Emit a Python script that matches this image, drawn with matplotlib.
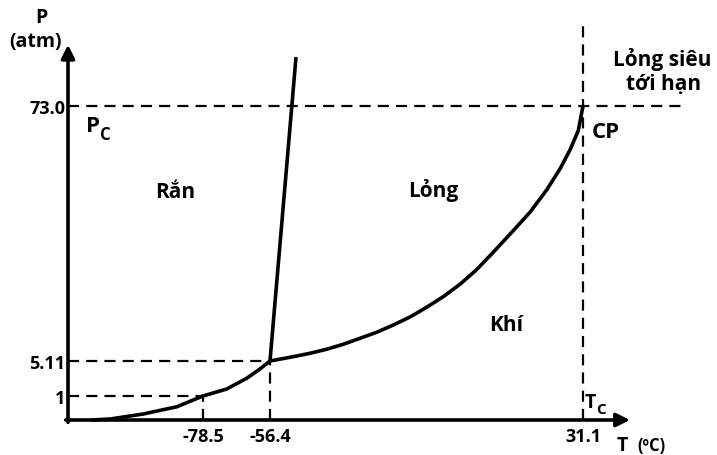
import numpy as np
import matplotlib
matplotlib.use("Agg")
import matplotlib.pyplot as plt

# ---------------- data (schematic CO2 phase diagram) ----------------
T_ticks = [-78.5, -56.4, 31.1]
T_tick_labels = ["-78.5", "-56.4", "31.1"]
P_ticks = [1, 5.11, 73.0]
P_tick_labels = ["1", "5.11", "73.0"]

# sublimation curve (solid - gas)
subl_T = [-113.0, -107.1, -96.85, -86.59, -78.5, -70.68, -64.08, -59.7, -56.4]
subl_P = [0.0, 0.04, 0.25, 0.55, 1.0, 1.82, 3.08, 4.17, 5.11]
# vaporisation curve (liquid - gas)
vap_T = [-56.4, -49.89, -45.22, -40.55, -35.91, -31.24, -26.57, -21.93, -17.26,
         -12.59, -7.95, -3.28, 1.38, 6.02, 11.61, 16.28, 20.95, 24.67, 27.47,
         29.79, 31.1]
vap_P = [5.11, 6.25, 7.16, 8.23, 9.56, 11.15, 12.75, 14.69, 16.82,
         19.41, 22.23, 25.53, 29.42, 34.05, 39.8, 44.7, 50.64, 56.23, 61.29,
         66.43, 73.0]
# melting curve (solid - liquid)
melt_T = [-56.4, -49.13]
melt_P = [5.11, 86.0]

triple_T, triple_P = -56.4, 5.11
crit_T, crit_P = 31.1, 73.0

# ---------------- schematic (non-linear) axis scales ----------------
T_anchor = np.array([-120.0, -78.5, -56.4, 31.1, 45.0, 70.0])
T_pos = np.array([0.0, 135.0, 202.0, 515.0, 562.0, 646.5])
P_anchor = np.array([0.0, 1.0, 5.11, 73.0, 100.0])
P_pos = np.array([0.0, 24.0, 59.0, 314.0, 415.4])

def t_fwd(t):
    return np.interp(t, T_anchor, T_pos)

def t_inv(p):
    return np.interp(p, T_pos, T_anchor)

def p_fwd(v):
    return np.interp(v, P_anchor, P_pos)

def p_inv(p):
    return np.interp(p, P_pos, P_anchor)

W, H = 717, 456
fig = plt.figure(figsize=(W / 100, H / 100), dpi=100)
ax = fig.add_axes([68 / W, (H - 421) / H, (630 - 68) / W, (421 - 40) / H])
ax.set_xscale("function", functions=(t_fwd, t_inv))
ax.set_yscale("function", functions=(p_fwd, p_inv))
ax.set_xlim(-120, 45)
ax.set_ylim(0, 90.8)
for s in ax.spines.values():
    s.set_visible(False)
ax.patch.set_alpha(0)

FONT = "Open Sans"
W8 = "bold"

ax.set_xticks(T_ticks)
ax.set_xticklabels(T_tick_labels)
ax.set_yticks(P_ticks)
ax.set_yticklabels(P_tick_labels)
ax.tick_params(axis="both", length=0, labelsize=13)
ax.tick_params(axis="x", pad=5)
ax.tick_params(axis="y", pad=2)
for lab in ax.get_xticklabels() + ax.get_yticklabels():
    lab.set_fontfamily(FONT)
    lab.set_fontweight(W8)
ax.minorticks_off()

# axes arrows
arr = dict(arrowstyle="-|>", lw=2.6, color="black", mutation_scale=20,
           shrinkA=0, shrinkB=0)
ax.annotate("", xy=(1.0, 0), xytext=(-0.004, 0), xycoords="axes fraction",
            arrowprops=arr, annotation_clip=False)
ax.annotate("", xy=(0, 0.985), xytext=(0, -0.006), xycoords="axes fraction",
            arrowprops=arr, annotation_clip=False)

# dashed guide lines
dkw = dict(color="black", lw=1.6, dashes=(5, 3.2), clip_on=False)
ax.plot([-120, 60], [crit_P, crit_P], **dkw)
ax.plot([crit_T, crit_T], [0, 95.0], **dkw)
ax.plot([-120, triple_T], [triple_P, triple_P], **dkw)
ax.plot([triple_T, triple_T], [0, triple_P], **dkw)
ax.plot([-120, T_ticks[0]], [P_ticks[0], P_ticks[0]], **dkw)
ax.plot([T_ticks[0], T_ticks[0]], [0, P_ticks[0]], **dkw)

# phase boundaries
ckw = dict(color="black", lw=2.6, solid_capstyle="butt",
           solid_joinstyle="round", clip_on=False)
ax.plot(subl_T, subl_P, **ckw)
ax.plot(vap_T, vap_P, **ckw)
ax.plot(melt_T, melt_P, **ckw)

# text labels (figure pixel positions, baseline)
def ftext(x, y, s, size=16, ha="center", **kw):
    fig.text(x / W, 1 - y / H, s, fontsize=size, ha=ha, va="baseline",
             fontfamily=FONT, fontweight=W8, **kw)

ftext(41, 23, "P", size=14)
ftext(36, 47, "(atm)", size=14)
ftext(86, 132, "P", size=16, ha="left")
ftext(100, 140, "C", size=12, ha="left")
ftext(175.5, 198, "Rắn", size=15)
ftext(433, 197, "Lỏng", size=15)
ftext(506, 331, "Khí", size=15)
ftext(592, 138, "CP", size=16, ha="left")
ftext(662.5, 66, "Lỏng siêu", size=15)
ftext(663.5, 90, "tới hạn", size=15)
ftext(585, 408, "T", size=14, ha="left")
ftext(596, 414, "C", size=11, ha="left")
ftext(617, 451, "T", size=14, ha="left")
ftext(637, 451, "(ºC)", size=12, ha="left")

fig.savefig("out.png", dpi=100)
